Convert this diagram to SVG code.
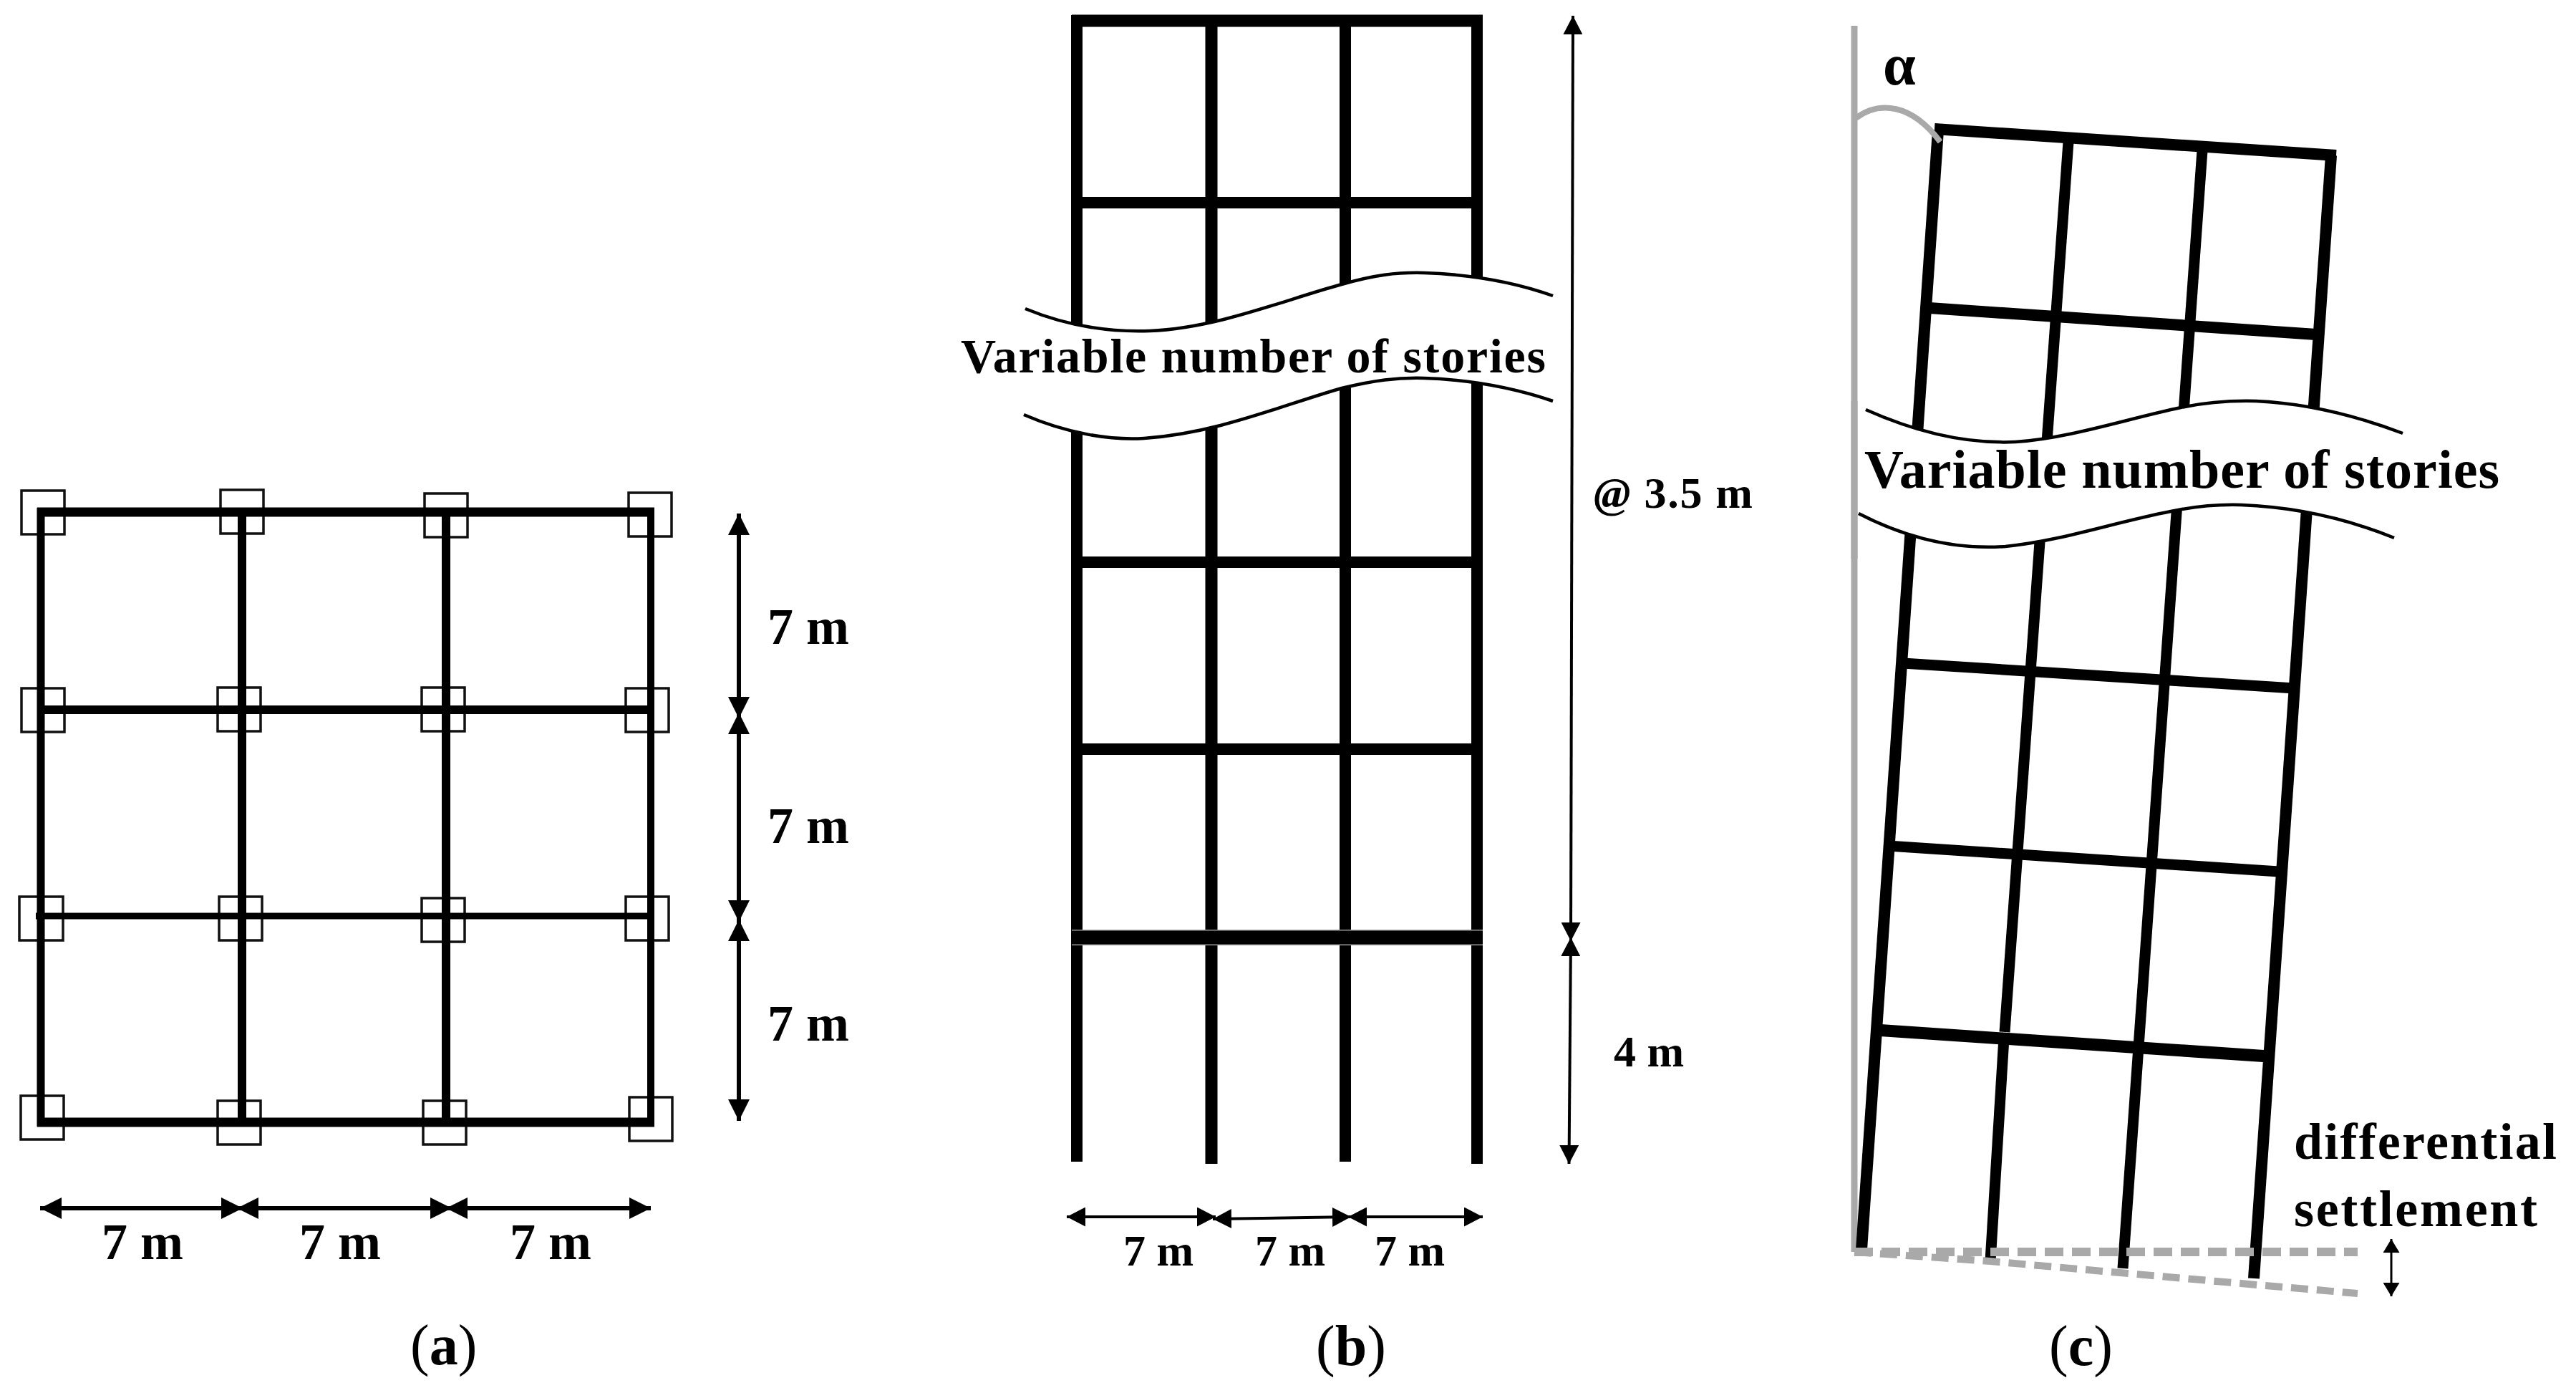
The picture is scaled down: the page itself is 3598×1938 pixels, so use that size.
<svg xmlns="http://www.w3.org/2000/svg" width="3598" height="1938" viewBox="0 0 3598 1938">
<style>
.t{font-family:"Liberation Serif","Times New Roman",serif;font-weight:bold;fill:#000}
.cap{font-family:"Liberation Serif","Times New Roman",serif;font-size:80px;fill:#000}
.f{stroke:#000;fill:none;stroke-linecap:butt}
.sq{fill:none;stroke:#111;stroke-width:3.5}
.wave{fill:none;stroke:#000;stroke-width:4.5}
.band{fill:#fff;stroke:none}
.dimA{stroke:#000;stroke-width:6;fill:none;marker-start:url(#hA);marker-end:url(#hA)}
.dimB{stroke:#000;stroke-width:4;fill:none;marker-start:url(#hB);marker-end:url(#hB)}
.dimC{stroke:#000;stroke-width:3;fill:none;marker-start:url(#hC);marker-end:url(#hC)}
.gray{stroke:#a9a9a9;fill:none}
</style>
<defs>
<marker id="hA" markerUnits="userSpaceOnUse" markerWidth="30" markerHeight="30" refX="30" refY="15" orient="auto-start-reverse"><path d="M0 0L30 15L0 30Z" fill="#000"/></marker>
<marker id="hB" markerUnits="userSpaceOnUse" markerWidth="26" markerHeight="27" refX="26" refY="13.5" orient="auto-start-reverse"><path d="M0 0L26 13.5L0 27Z" fill="#000"/></marker>
<marker id="hC" markerUnits="userSpaceOnUse" markerWidth="19" markerHeight="23" refX="19" refY="11.5" orient="auto-start-reverse"><path d="M0 0L19 11.5L0 23Z" fill="#000"/></marker>
</defs>
<rect width="3598" height="1938" fill="#fff"/>

<g id="panel-a">
<g id="a-columns">
<rect class="sq" x="30" y="685" width="60" height="61"/><rect class="sq" x="308" y="684" width="60" height="61"/><rect class="sq" x="593" y="689" width="60" height="61"/><rect class="sq" x="878" y="688" width="60" height="61"/>
<rect class="sq" x="30" y="961" width="60" height="61"/><rect class="sq" x="304" y="960" width="60" height="61"/><rect class="sq" x="589" y="960" width="60" height="61"/><rect class="sq" x="874" y="961" width="60" height="61"/>
<rect class="sq" x="27" y="1252" width="61" height="61"/><rect class="sq" x="306" y="1252" width="60" height="61"/><rect class="sq" x="589" y="1254" width="60" height="61"/><rect class="sq" x="874" y="1252" width="60" height="61"/>
<rect class="sq" x="29" y="1530" width="60" height="61"/><rect class="sq" x="304" y="1537" width="60" height="61"/><rect class="sq" x="591" y="1537" width="60" height="61"/><rect class="sq" x="879" y="1532" width="60" height="61"/>
</g>
<g id="a-frame" class="f">
<path stroke-width="11" d="M57 709V1573"/><path stroke-width="12" d="M338 709V1567"/><path stroke-width="12" d="M623 709V1567"/><path stroke-width="10" d="M909 709V1573"/>
<path stroke-width="13" d="M52 715H914"/><path stroke-width="12" d="M57 991H909"/><path stroke-width="9" d="M50 1279H909"/><path stroke-width="13" d="M52 1567H914"/>
</g>
<g class="t" font-size="72">
<text x="1072" y="899">7 m</text><text x="1072" y="1177">7 m</text><text x="1072" y="1453">7 m</text>
<text x="142" y="1758">7 m</text><text x="418" y="1758">7 m</text><text x="712" y="1758">7 m</text>
</g>
<text class="cap" x="573" y="1905">(<tspan font-weight="bold">a</tspan>)</text>
</g>

<g id="panel-b">
<g id="b-frame" class="f">
<path stroke-width="16" d="M1504 21V1622"/><path stroke-width="17" d="M1692 21V1625"/><path stroke-width="16" d="M1879 21V1622"/><path stroke-width="16" d="M2063 21V1625"/>
<path stroke-width="17" d="M1497 29H2071"/><path stroke-width="16" d="M1504 283H2063"/><path stroke-width="16" d="M1504 785H2063"/><path stroke-width="16" d="M1504 1046H2063"/>
<path stroke-width="22" stroke="#999" d="M1497 1309H2071"/><path stroke-width="19" d="M1497 1309H2071"/>
</g>
<path class="band" d="M1432 431C1490 455 1550 464 1606 462C1700 458 1790 420 1874 397C1920 384 1950 380 1989 381C2050 383 2110 392 2169 413L2169 560C2110 540 2050 530 1989 528C1950 527 1920 531 1874 542C1790 566 1700 605 1598 612C1550 615 1490 605 1430 579Z"/>
<path class="wave" d="M1432 431C1490 455 1550 464 1606 462C1700 458 1790 420 1874 397C1920 384 1950 380 1989 381C2050 383 2110 392 2169 413"/>
<path class="wave" d="M1430 579C1490 605 1550 615 1598 612C1700 605 1790 566 1874 542C1920 531 1950 527 1989 528C2050 530 2110 540 2169 560"/>
<text class="t" x="1342" y="520" font-size="68" textLength="817">Variable number of stories</text>
<text class="t" x="2226" y="709" font-size="62" textLength="222"><tspan font-style="italic">@</tspan> 3.5 m</text>
<text class="t" x="2254" y="1489" font-size="62">4 m</text>
<g class="t" font-size="62"><text x="1569" y="1767">7 m</text><text x="1753" y="1767">7 m</text><text x="1920" y="1767">7 m</text></g>
<text class="cap" x="1838" y="1906">(<tspan font-weight="bold">b</tspan>)</text>
</g>

<g id="panel-c">
<path class="gray" stroke-width="9" d="M2590 36V1748"/>
<g id="c-frame" class="f">
<path stroke-width="16" d="M2707 182L2600 1745"/>
<path stroke-width="15" d="M2889 198L2800 1441"/><path stroke-width="15" d="M2799 1449L2780 1761"/>
<path stroke-width="15" d="M3076 210L2965 1771"/>
<path stroke-width="16" d="M3256 217L3148 1785"/>
<path stroke-width="16" d="M2702 180L3263 217"/>
<path stroke-width="16" d="M2695 430L3235 467"/>
<path stroke-width="15" d="M2658 926L3204 961"/>
<path stroke-width="15" d="M2637 1181L3183 1217"/>
<path stroke-width="17" d="M2619 1438L3169 1475"/>
</g>
<path class="band" d="M2606 572C2680 605 2750 620 2815 617C2890 612 2970 585 3046 569C3080 562 3115 559 3151 560C3220 563 3290 580 3356 605L3344 751C3280 725 3210 708 3130 705C3095 704 3065 707 3032 714C2950 730 2880 755 2801 763C2730 768 2660 750 2596 717Z"/>
<path class="wave" d="M2606 572C2680 605 2750 620 2815 617C2890 612 2970 585 3046 569C3080 562 3115 559 3151 560C3220 563 3290 580 3356 605"/>
<path class="wave" d="M2596 717C2660 750 2730 768 2801 763C2880 755 2950 730 3032 714C3065 707 3095 704 3130 705C3210 708 3280 725 3344 751"/>
<path class="gray" stroke-width="9" d="M2590 560V780"/>
<path class="gray" stroke-width="8" d="M2592 165C2625 140 2670 145 2710 198"/>
<text class="t" x="2630" y="118" font-size="82">α</text>
<text class="t" x="2604" y="681" font-size="76" textLength="887">Variable number of stories</text>
<text class="t" x="3204" y="1618" font-size="72" textLength="367">differential</text>
<text class="t" x="3204" y="1712" font-size="72" textLength="340">settlement</text>
<g id="c-ground" class="gray">
<path stroke-width="12" stroke-dasharray="26 12" d="M2590 1748H3293"/>
<path stroke-width="10" stroke-dasharray="24 12" d="M2590 1748L2780 1761L3130 1792L3293 1806"/>
</g>
<text class="cap" x="2862" y="1906">(<tspan font-weight="bold">c</tspan>)</text>
</g>

<g id="connectors">
<path class="dimA" d="M1032 717V1003"/><path class="dimA" d="M1032 995V1287"/><path class="dimA" d="M1032 1284V1565"/>
<path class="dimA" d="M56 1687H339"/><path class="dimA" d="M331 1687H631"/><path class="dimA" d="M623 1687H909"/>
<path class="dimB" d="M2197 22L2194 1314"/><path class="dimB" d="M2194 1309L2191.500 1625"/>
<path class="dimB" d="M1490 1699H1698"/><path class="dimB" d="M1694 1702L1887 1699"/><path class="dimB" d="M1883 1699H2071"/>
<path class="dimC" d="M3340 1730V1810"/>
</g>
</svg>
